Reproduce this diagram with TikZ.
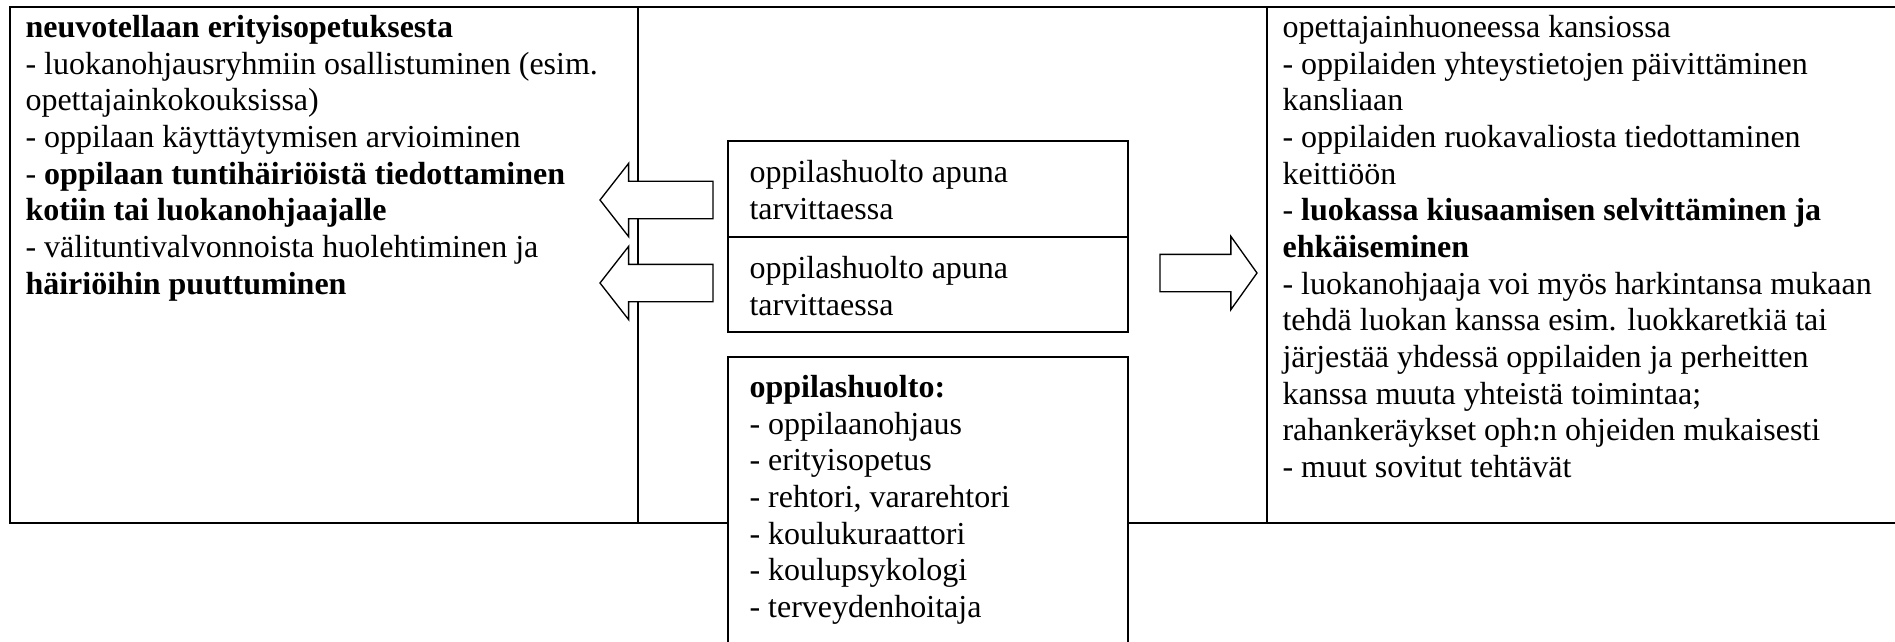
\documentclass[tikz,border=0pt]{standalone}
\usepackage{fontspec}
\setmainfont{Liberation Serif}
\usetikzlibrary{shapes.arrows,positioning,calc}

\tikzset{
  cell/.style={draw, line width=0.75pt, anchor=north west, inner sep=0pt, outer sep=0pt, minimum height=193.5pt},
  midbox/.style={draw, fill=white, line width=0.7pt, anchor=north west, inner sep=0pt, outer sep=0pt, minimum width=150pt},
  celltext/.style={anchor=north west, inner sep=0pt, align=left, font=\fontsize{12}{13.75}\selectfont},
  blockarrow/.style={draw, fill=white, line width=0.5pt, single arrow, inner xsep=0pt, inner ysep=6.75pt, outer sep=0pt,
    single arrow head extend=6.75pt, anchor=tail}
}

\begin{document}
\begin{tikzpicture}[x=0.375pt, y=-0.375pt]
    \useasboundingbox (0,0) rectangle (1895,642);
    \clip (0,0) rectangle (1895,642);

    % Table cells
    \node[cell, minimum width=235.5pt] (leftcell) at (10,7) {};
    \node[cell, minimum width=235.875pt] (midcell) at (638,7) {};
    \node[cell, minimum width=240pt] (rightcell) at (1267,7) {};

    % Left column
    \node[celltext] (lefttext) at ($(leftcell.north west)+(15,4.3)$) {\strut\textbf{neuvotellaan erityisopetuksesta}\\
      - luokanohjausryhmiin osallistuminen (esim.\\
      opettajainkokouksissa)\\
      - oppilaan käyttäytymisen arvioiminen\\
      - \textbf{oppilaan tuntihäiriöistä tiedottaminen}\\
      \textbf{kotiin tai luokanohjaajalle}\\
      - välituntivalvonnoista huolehtiminen ja\\
      \textbf{häiriöihin puuttuminen}};

    % Right column
    \node[celltext] (righttext) at ($(rightcell.north west)+(15,4.3)$) {\strut opettajainhuoneessa kansiossa\\
      - oppilaiden yhteystietojen päivittäminen\\
      kansliaan\\
      - oppilaiden ruokavaliosta tiedottaminen\\
      keittiöön\\
      - \textbf{luokassa kiusaamisen selvittäminen ja}\\
      \textbf{ehkäiseminen}\\
      - luokanohjaaja voi myös harkintansa mukaan\\
      tehdä luokan kanssa esim. luokkaretkiä tai\\
      järjestää yhdessä oppilaiden ja perheitten\\
      kanssa muuta yhteistä toimintaa;\\
      rahankeräykset oph:n ohjeiden mukaisesti\\
      - muut sovitut tehtävät};

    % Block arrows
    \node[blockarrow, minimum height=42.375pt, single arrow tip angle=104, shape border rotate=180] (arrowL1) at (713,200) {};
    \node[blockarrow, minimum height=42.375pt, single arrow tip angle=104, shape border rotate=180] (arrowL2) at (713,283) {};
    \node[blockarrow, minimum height=36.375pt, single arrow tip angle=109] (arrowR) at (1160,273) {};

    % Middle boxes
    \node[midbox, minimum height=36pt] (box1) at (728,141) {};
    \node[midbox, minimum height=35.625pt] (box2) at (box1.south west) {};
    \node[midbox, minimum height=114pt] (box3) at (728,357) {};

    \node[celltext] (box1text) at ($(box1.north west)+(21,15.3)$) {\strut oppilashuolto apuna\\tarvittaessa};
    \node[celltext] (box2text) at ($(box2.north west)+(21,15.3)$) {\strut oppilashuolto apuna\\tarvittaessa};
    \node[celltext] (box3text) at ($(box3.north west)+(21,14.3)$) {\strut\textbf{oppilashuolto:}\\
      - oppilaanohjaus\\
      - erityisopetus\\
      - rehtori, vararehtori\\
      - koulukuraattori\\
      - koulupsykologi\\
      - terveydenhoitaja};
\end{tikzpicture}
\end{document}
